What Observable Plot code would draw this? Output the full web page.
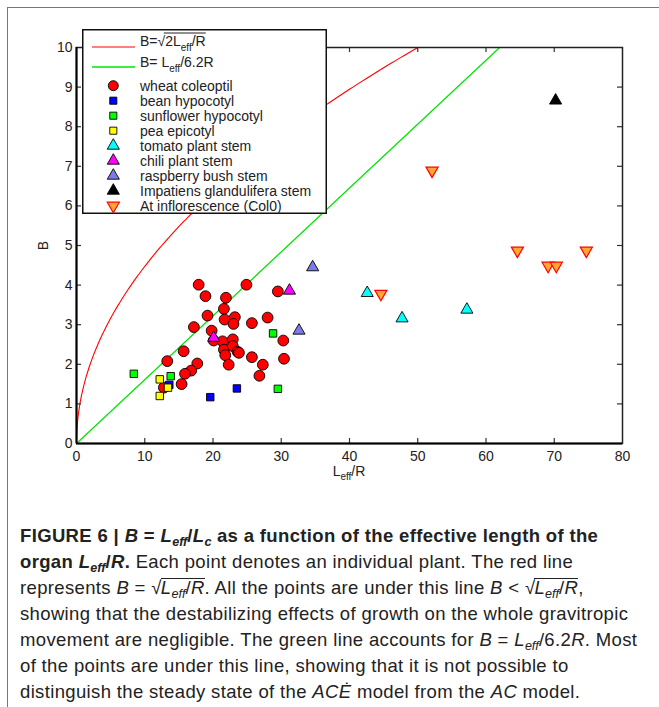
<!DOCTYPE html>
<html><head><meta charset="utf-8">
<script src="https://cdn.jsdelivr.net/npm/d3@7"></script>
<script src="https://cdn.jsdelivr.net/npm/@observablehq/plot@0.6"></script>
<style>
body{margin:0;background:#fff;}
#fig{position:relative;width:659px;height:707px;overflow:hidden;font-family:'Liberation Sans',Arial,Helvetica,sans-serif;color:#222;}
#border{position:absolute;left:7px;top:7px;width:660px;height:710px;border-left:1.5px solid #777;border-top:1.5px solid #777;}
#plot{position:absolute;left:0;top:0;}
#xlab{position:absolute;left:0;width:698px;top:463px;text-align:center;font-size:14px;line-height:16px;}
#xlab sub{font-size:10px;vertical-align:-4px;line-height:0;}
#cap{position:absolute;left:20px;top:523px;font-size:18.5px;letter-spacing:0.35px;line-height:26px;white-space:nowrap;color:#222;}
#cap sub{font-size:0.68em;vertical-align:-0.28em;line-height:0;letter-spacing:0;}
.ov{display:inline-block;line-height:1em;border-top:1px solid #222;padding-top:0;margin-left:-1px;}
</style></head><body>
<div id="fig">
  <div id="border"></div>
  <div id="plot"></div>
  <div id="xlab">L<sub>eff</sub>/R</div>
  <div id="cap">
    <div><b>FIGURE 6 | <i>B</i> = <i>L<sub>eff</sub></i>/<i>L<sub>c</sub></i> as a function of the effective length of the</b></div>
    <div><b>organ <i>L<sub>eff</sub></i>/<i>R</i>.</b> Each point denotes an individual plant. The red line</div>
    <div>represents <i>B</i> = √<span class="ov"><i>L<sub>eff</sub></i>/<i>R</i></span>. All the points are under this line <i>B</i> &lt; √<span class="ov"><i>L<sub>eff</sub></i>/<i>R</i></span>,</div>
    <div>showing that the destabilizing effects of growth on the whole gravitropic</div>
    <div>movement are negligible. The green line accounts for <i>B</i> = <i>L<sub>eff</sub></i>/6.2<i>R</i>. Most</div>
    <div>of the points are under this line, showing that it is not possible to</div>
    <div>distinguish the steady state of the <i>ACĖ</i> model from the <i>AC</i> model.</div>
  </div>
</div>
<script>
// ---- data ----
const wheatX = [17.9,18.9,24.9,21.9,21.6,19.2,21.7,23.2,23.0,25.7,28.0,29.5,17.2,19.8,20.1,21.4,22.9,30.3,21.6,22.9,21.8,23.6,23.8,15.7,13.3,25.7,30.4,22.3,27.3,17.7,16.8,15.9,26.8,15.4,12.8];
const wheatY = [4.01,3.72,4.01,3.68,3.40,3.23,3.13,3.19,3.02,3.04,3.18,3.84,2.94,2.85,2.60,2.58,2.63,2.60,2.37,2.46,2.23,2.32,2.29,2.33,2.08,2.18,2.14,1.99,1.99,2.02,1.84,1.76,1.71,1.50,1.41];
const beanX = [13.6,23.5,19.6];
const beanY = [1.48,1.39,1.17];
const sunflowerX = [8.4,13.8,28.8,29.5];
const sunflowerY = [1.76,1.70,2.78,1.38];
const peaX = [12.2,13.4,12.2];
const peaY = [1.62,1.41,1.20];
const tomatoX = [42.6,47.7,57.2];
const tomatoY = [3.80,3.16,3.38];
const chiliX = [20.1,31.2];
const chiliY = [2.67,3.86];
const raspberryX = [34.6,32.6];
const raspberryY = [4.45,2.85];
const impatiensX = [70.2];
const impatiensY = [8.66];
const inflorX = [52.1,44.6,64.6,69.1,70.3,74.7];
const inflorY = [6.89,3.78,4.87,4.49,4.49,4.87];
const seriesNames = ["wheat coleoptil","bean hypocotyl","sunflower hypocotyl","pea epicotyl","tomato plant stem","chili plant stem","raspberry bush stem","Impatiens glandulifera stem","At inflorescence (Col0)"];
const xTicks = [0,10,20,30,40,50,60,70,80];
const yTicks = [0,1,2,3,4,5,6,7,8,9,10];
const greenSlope = 6.2; // B = L/6.2R
const redFactor = 2;    // B = sqrt(2 L/R)

// ---- build tables ----
const zip = (xs, ys) => xs.map((x, i) => ({x, y: ys[i]}));
const series = [
  {data: zip(wheatX, wheatY)}, {data: zip(beanX, beanY)}, {data: zip(sunflowerX, sunflowerY)},
  {data: zip(peaX, peaY)}, {data: zip(tomatoX, tomatoY)}, {data: zip(chiliX, chiliY)},
  {data: zip(raspberryX, raspberryY)}, {data: zip(impatiensX, impatiensY)}, {data: zip(inflorX, inflorY)}
];
const styles = [
  {symbol:"circle", fill:"#ff0000", stroke:"#000", r:5.4},
  {symbol:"square", fill:"#0000ff", stroke:"#000", r:4.2},
  {symbol:"square", fill:"#00ff00", stroke:"#000", r:4.2},
  {symbol:"square", fill:"#ffff00", stroke:"#000", r:4.2},
  {symbol:"triangle", fill:"#00ffff", stroke:"#000", r:4.5},
  {symbol:"triangle", fill:"#ff00ff", stroke:"#000", r:4.5},
  {symbol:"triangle", fill:"#7b7bea", stroke:"#000", r:4.5},
  {symbol:"triangle", fill:"#000000", stroke:"#000", r:4.5},
  {symbol:"triangle", fill:"#ffa833", stroke:"#ff0000", r:4.5, rotate:180}
];

// theoretical curves
const redCurve = d3.range(0, 201).map(i => { const x = 50 * (i/200) ** 2; return {x, y: Math.sqrt(redFactor * x)}; });
const greenLine = [0, 80].map(x => ({x, y: x / greenSlope}));

// layout
const W = 659, H = 480, mL = 76, mR = 37, mT = 47, mB = 37;
const xDom = [0, 80], yDom = [0, 10];
// inward tick length (px) expressed in data units
const TL = 5;
const tdx = TL * (xDom[1] - xDom[0]) / (W - mL - mR);
const tdy = TL * (yDom[1] - yDom[0]) / (H - mT - mB);
const tk = {stroke: "#333", strokeWidth: 1.2};
const innerX = xTicks.slice(1, -1), innerY = yTicks.slice(1, -1);

const font = "'Liberation Sans', Arial, Helvetica, sans-serif";
const chart = Plot.plot({
  width: W, height: H,
  marginLeft: mL, marginRight: mR, marginTop: mT, marginBottom: mB,
  x: {type: "linear", domain: xDom},
  y: {type: "linear", domain: yDom},
  style: {fontFamily: font, fontSize: "14px", color: "#222", background: "transparent"},
  marks: [
    Plot.line(redCurve, {x: "x", y: "y", stroke: "#ff0000", strokeWidth: 1.1, clip: true}),
    Plot.line(greenLine, {x: "x", y: "y", stroke: "#00e600", strokeWidth: 1.3, clip: true}),
    ...series.map((s, i) => Plot.dot(s.data, {x: "x", y: "y", ...styles[i], strokeWidth: styles[i].rotate ? 1.2 : 0.9})),
    Plot.ruleX(innerX, {x: d => d, y1: () => yDom[0], y2: () => yDom[0] + tdy, ...tk}),
    Plot.ruleX(innerX, {x: d => d, y1: () => yDom[1] - tdy, y2: () => yDom[1], ...tk}),
    Plot.ruleY(innerY, {y: d => d, x1: () => xDom[0], x2: () => xDom[0] + tdx, ...tk}),
    Plot.ruleY(innerY, {y: d => d, x1: () => xDom[1] - tdx, x2: () => xDom[1], ...tk}),
    Plot.frame({stroke: "#222", strokeWidth: 1.5}),
    Plot.ruleX([0], {stroke: "#000", strokeWidth: 2}),
    Plot.ruleY([0], {stroke: "#000", strokeWidth: 2}),
    Plot.axisX({ticks: xTicks, tickSize: 0, tickPadding: 8, label: null}),
    Plot.axisY({ticks: yTicks, tickSize: 0, tickPadding: 4, label: "B", labelAnchor: "center", labelArrow: "none", labelOffset: 38})
  ]
});
document.getElementById("plot").appendChild(chart);

// ---- legend ----
const lg = d3.select("#fig").append("svg")
  .attr("width", 246).attr("height", 186)
  .style("position", "absolute").style("left", "82px").style("top", "29px")
  .style("font-family", font).style("font-size", "14px");
lg.append("rect").attr("x", 0.75).attr("y", 0.75).attr("width", 243.5).attr("height", 183.5)
  .attr("fill", "#fff").attr("stroke", "#111").attr("stroke-width", 1.5);
lg.append("line").attr("x1", 10).attr("x2", 53).attr("y1", 18).attr("y2", 18).attr("stroke", "#ff0000").attr("stroke-width", 1.2);
lg.append("line").attr("x1", 10).attr("x2", 53).attr("y1", 38).attr("y2", 38).attr("stroke", "#00e600").attr("stroke-width", 1.3);
const t1 = lg.append("text").attr("x", 58).attr("y", 17).attr("fill", "#222");
t1.append("tspan").text("B=");
t1.append("tspan").text("√");
t1.append("tspan").text("2L");
t1.append("tspan").attr("font-size", "10px").attr("dy", 5).text("eff");
t1.append("tspan").attr("dy", -5).text("/R");
const t2 = lg.append("text").attr("x", 58).attr("y", 38).attr("fill", "#222");
t2.append("tspan").text("B= L");
t2.append("tspan").attr("font-size", "10px").attr("dy", 5).text("eff");
t2.append("tspan").attr("dy", -5).text("/6.2R");
{
  const bb = t1.node().getBBox();
  const sqLen = t1.node().getSubStringLength(0, 3);
  lg.append("line").attr("x1", 58 + sqLen - 1.5).attr("x2", 58 + bb.width).attr("y1", 4).attr("y2", 4).attr("stroke", "#222").attr("stroke-width", 1);
}
const symMap = {circle: d3.symbolCircle, square: d3.symbolSquare, triangle: d3.symbolTriangle};
seriesNames.forEach((name, i) => {
  const st = styles[i];
  const y = 56.7 + i * 15;
  const r = st.symbol === "circle" ? 5 : st.symbol === "square" ? 4 : 4.5;
  lg.append("path")
    .attr("d", d3.symbol(symMap[st.symbol], Math.PI * r * r)())
    .attr("transform", `translate(31.3,${y})${st.rotate ? " rotate(180)" : ""}`)
    .attr("fill", st.fill).attr("stroke", st.stroke).attr("stroke-width", st.rotate ? 1.2 : 0.9);
  lg.append("text").attr("x", 58).attr("y", y).attr("dy", "0.36em").attr("fill", "#222").text(name);
});
</script>
</body></html>
